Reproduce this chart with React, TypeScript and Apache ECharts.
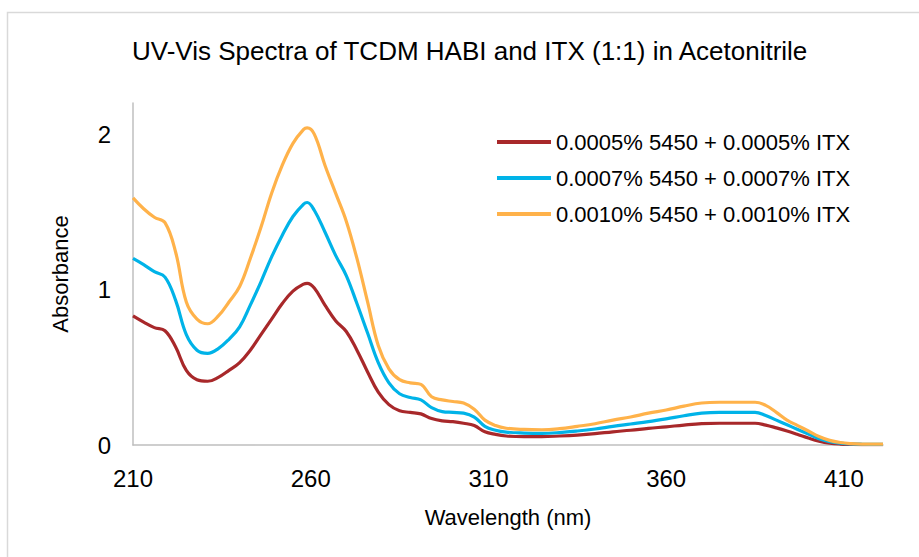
import React, { useEffect, useRef } from "react";
import * as echarts from "echarts";

const wavelengths = [210, 213, 216, 219, 222, 225, 228, 231, 234, 237, 240, 243, 246, 249, 252, 255, 258, 259, 261, 264, 267, 270, 273, 276, 279, 282, 285, 288, 291, 294, 297, 300, 303, 306, 309, 312, 315, 320, 325, 330, 335, 340, 345, 350, 355, 360, 365, 370, 375, 380, 385, 388, 391, 394, 397, 400, 403, 406, 409, 412, 415, 421];

const red = [0.83, 0.79, 0.755, 0.735, 0.63, 0.48, 0.42, 0.41, 0.435, 0.48, 0.53, 0.61, 0.71, 0.81, 0.91, 0.99, 1.035, 1.04, 1.01, 0.9, 0.8, 0.73, 0.61, 0.47, 0.34, 0.26, 0.22, 0.21, 0.2, 0.17, 0.155, 0.15, 0.14, 0.125, 0.085, 0.068, 0.058, 0.054, 0.054, 0.058, 0.064, 0.073, 0.085, 0.095, 0.107, 0.117, 0.128, 0.137, 0.14, 0.14, 0.14, 0.128, 0.11, 0.09, 0.068, 0.045, 0.025, 0.012, 0.006, 0.004, 0.003, 0.003];

const blue = [1.2, 1.16, 1.115, 1.08, 0.93, 0.71, 0.61, 0.59, 0.62, 0.68, 0.76, 0.9, 1.05, 1.21, 1.35, 1.47, 1.55, 1.56, 1.51, 1.37, 1.22, 1.09, 0.91, 0.72, 0.53, 0.4, 0.33, 0.305, 0.29, 0.24, 0.215, 0.21, 0.205, 0.18, 0.12, 0.095, 0.083, 0.077, 0.075, 0.08, 0.09, 0.103, 0.12, 0.135, 0.15, 0.168, 0.188, 0.205, 0.21, 0.21, 0.21, 0.19, 0.16, 0.13, 0.1, 0.07, 0.04, 0.022, 0.012, 0.007, 0.005, 0.004];

const orange = [1.59, 1.52, 1.465, 1.43, 1.24, 0.92, 0.81, 0.78, 0.83, 0.92, 1.02, 1.2, 1.4, 1.62, 1.8, 1.94, 2.03, 2.04, 2.0, 1.8, 1.62, 1.44, 1.2, 0.92, 0.64, 0.49, 0.42, 0.4, 0.39, 0.31, 0.29, 0.28, 0.27, 0.23, 0.16, 0.125, 0.108, 0.1, 0.098, 0.105, 0.12, 0.137, 0.16, 0.18, 0.205, 0.225, 0.25, 0.27, 0.275, 0.275, 0.275, 0.255, 0.21, 0.16, 0.125, 0.09, 0.055, 0.03, 0.016, 0.009, 0.006, 0.005];

const seriesNames = [
  "0.0005% 5450 + 0.0005% ITX",
  "0.0007% 5450 + 0.0007% ITX",
  "0.0010% 5450 + 0.0010% ITX",
];
const seriesColors = ["#A8282A", "#00B3E8", "#FFB24A"];

const X_START = 210;
const X_END = 421;

const FONT = "'Liberation Sans', Arial, sans-serif";

export default function App() {
  const ref = useRef<HTMLDivElement>(null);
  useEffect(() => {
    if (!ref.current) return;
    const chart = echarts.init(ref.current, undefined, { renderer: "svg" });
    const all = [red, blue, orange];
    chart.setOption({
      animation: false,
      backgroundColor: "#ffffff",
      textStyle: { fontFamily: FONT },
      title: {
        text: "UV-Vis Spectra of TCDM HABI and ITX (1:1) in Acetonitrile",
        left: 127,
        top: 33,
        textStyle: { fontFamily: FONT, fontSize: 26, fontWeight: "normal", color: "#000" },
      },
      graphic: [
        {
          type: "rect",
          shape: { x: 7.5, y: 12.5, width: 1000, height: 1000 },
          style: { fill: "none", stroke: "#d9d9d9", lineWidth: 1.5 },
          silent: true,
          z: -1,
        },
      ],
      legend: {
        orient: "vertical",
        left: 492,
        top: 126,
        itemWidth: 54,
        itemHeight: 4,
        itemGap: 14,
        icon: "rect",
        textStyle: { fontFamily: FONT, fontSize: 22, color: "#000" },
        data: seriesNames,
      },
      grid: { left: 133, right: 36, top: 103, bottom: 112, containLabel: false },
      xAxis: {
        type: "value",
        min: 0,
        max: X_END - X_START,
        interval: 50,
        name: "Wavelength (nm)",
        nameLocation: "middle",
        nameGap: 61,
        nameTextStyle: { fontFamily: FONT, fontSize: 22, color: "#000" },
        axisLine: { show: true, lineStyle: { color: "#bfbfbf", width: 1.5 } },
        axisTick: { show: false },
        splitLine: { show: false },
        axisLabel: {
          fontFamily: FONT,
          fontSize: 24,
          color: "#000",
          margin: 21,
          showMaxLabel: false,
          formatter: (v: number) => String(v + X_START),
        },
      },
      yAxis: {
        type: "value",
        min: 0,
        max: 2.2,
        interval: 1,
        name: "Absorbance",
        nameLocation: "middle",
        nameGap: 62,
        nameRotate: 90,
        nameTextStyle: { fontFamily: FONT, fontSize: 22, color: "#000" },
        axisLine: { show: true, lineStyle: { color: "#bfbfbf", width: 1.5 } },
        axisTick: { show: false },
        splitLine: { show: false },
        axisLabel: {
          fontFamily: FONT,
          fontSize: 24,
          color: "#000",
          margin: 22,
          showMaxLabel: false,
        },
      },
      series: seriesNames.map((name, i) => ({
        name,
        type: "line",
        showSymbol: false,
        symbol: "none",
        smooth: 0.4,
        lineStyle: { color: seriesColors[i], width: 3.2 },
        itemStyle: { color: seriesColors[i] },
        data: wavelengths.map((w, j) => [w - X_START, all[i][j]]),
      })),
    });
    return () => chart.dispose();
  }, []);
  return (
    <div
      ref={ref}
      style={{ position: "fixed", left: 0, top: 0, width: 919, height: 557, background: "#fff" }}
    />
  );
}
